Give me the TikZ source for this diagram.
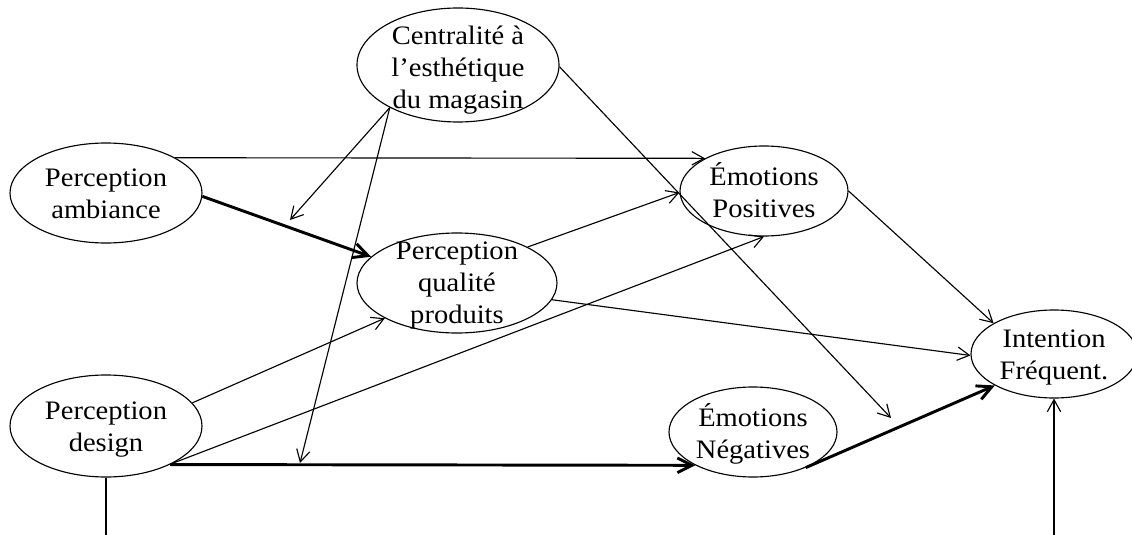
\documentclass[tikz,border=0pt]{standalone}
\usepackage{fontspec}
\setmainfont[FakeStretch=1.07]{Liberation Serif}
\usetikzlibrary{shapes.geometric,arrows.meta}
\begin{document}
\begin{tikzpicture}[x=0.75pt,y=-0.75pt,
  latent/.style={ellipse,draw,line width=0.85pt,inner sep=0pt},
  caption/.style={align=center,inner sep=0pt,yshift=-2.6pt,font=\fontsize{20}{24}\selectfont},
  path1/.style={line width=0.85pt,-{Straight Barb[length=9pt,width=10pt]}},
  path2/.style={line width=2.2pt,-{Straight Barb[length=11pt,width=11pt]}},
]
\useasboundingbox (0,0) rectangle (1132,535);

% latent constructs
\node[latent,minimum width=151.5pt,minimum height=85.5pt,
  label={[caption,yshift=-1.2pt]center:\strut Centralité à\\l’esthétique\\du magasin\strut}] (cent) at (458,65) {};
\node[latent,minimum width=144pt,minimum height=75pt,
  label={[caption]center:\strut Perception\\ambiance\strut}] (amb) at (106,193) {};
\node[latent,minimum width=150pt,minimum height=75pt,
  label={[caption,yshift=0.8pt]center:\strut Perception\\qualité\\produits\strut}] (qual) at (457,283) {};
\node[latent,minimum width=144pt,minimum height=76.5pt,
  label={[caption]center:\strut Perception\\design\strut}] (des) at (106,426) {};
\node[latent,minimum width=126pt,minimum height=67.5pt,
  label={[caption]center:\strut Émotions\\Positives\strut}] (epos) at (764,191) {};
\node[latent,minimum width=126pt,minimum height=67.5pt,
  label={[caption]center:\strut Émotions\\Négatives\strut}] (neg) at (753,432) {};
\node[latent,minimum width=124.5pt,minimum height=66pt,
  label={[caption]center:\strut Intention\\Fréquent.\strut}] (int) at (1054,354) {};

% free ends of the moderating paths and of the cut-off lines
\coordinate (m1) at (290,220);
\coordinate (m2) at (300,463);
\coordinate (m3) at (891,418);
\coordinate (b1) at (106,535);
\coordinate (b2) at (1054,535);

% structural paths
\draw[path1] (amb.27) -- (epos.151);
\draw[path2] (amb.-2) -- (qual.163);
\draw[path1] (cent.-148) -- (m1);
\draw[path1] (cent.-148) -- (m2);
\draw[path1] (cent.-1) -- (m3);
\draw[path1] (qual.27) -- (epos.181);
\draw[path1] (qual.-10) -- (int.181);
\draw[path1] (des.15) -- (qual.206);
\draw[path1] (des.-29) -- (epos.-90);
\draw[path2] (des.-31) -- (neg.210);
\draw[path1] (epos.0) -- (int.153);
\draw[path2] (neg.-34) -- (int.208);
\draw[line width=0.85pt] (des.south) -- (b1);
\draw[path1] (b2) -- (int.south);
\end{tikzpicture}
\end{document}
